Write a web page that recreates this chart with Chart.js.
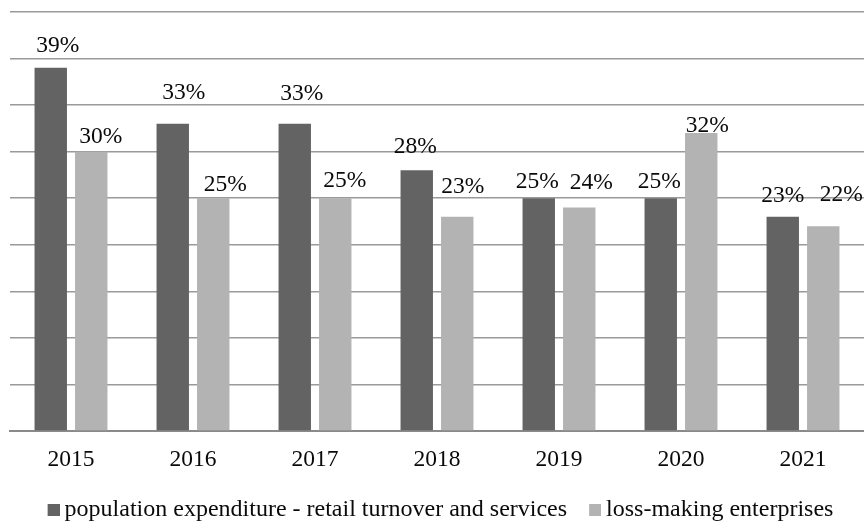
<!DOCTYPE html>
<html lang="en">
<head>
    <meta charset="UTF-8">
    <meta name="viewport" content="width=device-width, initial-scale=1.0">
    <title>Population expenditure and loss-making enterprises</title>
    <script src="https://cdn.jsdelivr.net/npm/chart.js"></script>
    <style>
        html, body {
            margin: 0;
            padding: 0;
            background: #ffffff;
        }
        .chart-box {
            width: 864px;
            height: 521px;
            position: relative;
        }
    </style>
</head>
<body>
    <div class="chart-box">
        <canvas id="shareChart"></canvas>
    </div>
    <script>
        const years = ["2015", "2016", "2017", "2018", "2019", "2020", "2021"];
        const expenditureShare = [39, 33, 33, 28, 25, 25, 23];
        const lossMakingShare = [30, 25, 25, 23, 24, 32, 22];
        const seriesNames = ["population expenditure - retail turnover and services", "loss-making enterprises"];
        const seriesColors = ["#636363", "#b3b3b3"];

        const serif = "'Times New Roman', 'Liberation Serif', serif";

        // value labels sit a little off the bar tops, each nudged by hand [dx, dy]
        const labelNudge = [
            [[7, -16], [11, -25], [7, -24], [-1.5, -17], [-1.5, -10], [-1.5, -10], [0, -15]],
            [[9.5, -9], [12, -7], [9.5, -11], [5.5, -24], [12, -19], [6, -1], [18, -25]]
        ];

        // legend swatch: a wide transparent canvas with the square on its right,
        // so the square ends up close to the legend text
        function legendSwatch(color) {
            const c = document.createElement("canvas");
            c.width = 26;
            c.height = 12;
            const g = c.getContext("2d");
            g.fillStyle = color;
            g.fillRect(14, 0, 12, 12);
            return c;
        }
        const swatches = seriesColors.map(legendSwatch);

        const valueLabels = {
            id: "valueLabels",
            afterDatasetsDraw(chart) {
                const ctx = chart.ctx;
                ctx.save();
                ctx.font = "23.5px " + serif;
                ctx.fillStyle = "#0a0a0a";
                ctx.textAlign = "center";
                ctx.textBaseline = "alphabetic";
                chart.data.datasets.forEach((ds, di) => {
                    chart.getDatasetMeta(di).data.forEach((bar, i) => {
                        const [dx, dy] = labelNudge[di][i];
                        ctx.fillText(ds.data[i] + "%", bar.x + dx, bar.y + dy);
                    });
                });
                ctx.restore();
            }
        };

        new Chart(document.getElementById("shareChart"), {
            type: "bar",
            data: {
                labels: years,
                datasets: [
                    {
                        label: seriesNames[0],
                        data: expenditureShare,
                        backgroundColor: seriesColors[0]
                    },
                    {
                        label: seriesNames[1],
                        data: lossMakingShare,
                        backgroundColor: seriesColors[1]
                    }
                ]
            },
            options: {
                responsive: true,
                maintainAspectRatio: false,
                animation: false,
                categoryPercentage: 0.664,
                barPercentage: 0.8,
                layout: {
                    // negative bottom padding pushes the legend down toward the edge
                    padding: { left: 10, right: 0, top: 12, bottom: -10.5 }
                },
                scales: {
                    x: {
                        // grid hidden, but its tick length still spaces the year labels
                        grid: { display: false, drawTicks: true, tickLength: 6.5 },
                        border: { display: true, color: "#8a8a8a", width: 2 },
                        ticks: {
                            color: "#0a0a0a",
                            padding: 8.4,
                            font: { family: serif, size: 23.5, lineHeight: 1.2 }
                        }
                    },
                    y: {
                        min: 0,
                        max: 45,
                        ticks: { stepSize: 5, display: false },
                        grid: { color: "#9a9a9a", lineWidth: 1.5, drawTicks: false },
                        border: { display: false }
                    }
                },
                plugins: {
                    tooltip: { enabled: false },
                    legend: {
                        position: "bottom",
                        labels: {
                            color: "#0a0a0a",
                            usePointStyle: true,
                            boxWidth: 12,
                            boxHeight: 12,
                            padding: 15,
                            font: { family: serif, size: 24 },
                            generateLabels(chart) {
                                const items = Chart.defaults.plugins.legend.labels.generateLabels(chart);
                                return items.map((item, i) => ({ ...item, pointStyle: swatches[i] }));
                            }
                        }
                    }
                }
            },
            plugins: [valueLabels]
        });
    </script>
</body>
</html>
